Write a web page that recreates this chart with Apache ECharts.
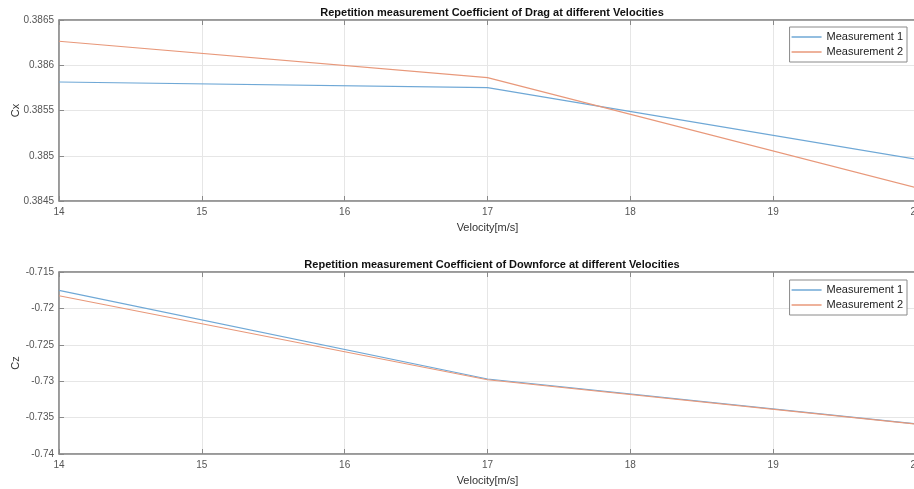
<!DOCTYPE html>
<html>
<head>
<meta charset="utf-8">
<script src="https://cdn.jsdelivr.net/npm/echarts@6/dist/echarts.min.js"></script>
<style>
html,body{margin:0;padding:0;background:#fff;}
#c{width:914px;height:489px;}
</style>
</head>
<body>
<div id="c"></div>
<script>
// Data
const velocity = [14, 17, 20];
const cxMeas1 = [0.385815, 0.385752, 0.384961];
const cxMeas2 = [0.386265, 0.385863, 0.384647];
const czMeas1 = [-0.71753, -0.72970, -0.73585];
const czMeas2 = [-0.71826, -0.72980, -0.73590];
const seriesNames = ['Measurement 1', 'Measurement 2'];
const titles = ['Repetition measurement Coefficient of Drag at different Velocities',
                'Repetition measurement Coefficient of Downforce at different Velocities'];
const xAxisName = 'Velocity[m/s]';
const yNames = ['Cx', 'Cz'];

const colors = ['#6fa8d6', '#e8987a'];
const font = 'Liberation Sans, Arial, sans-serif';
const pairs = (xs, ys) => xs.map((x, i) => [x, ys[i]]);
const fmt = d => v => String(parseFloat(v.toFixed(d)));

const grids = [
  {left: 59, top: 20, width: 857, height: 181},
  {left: 59, top: 272, width: 857, height: 182}
];

function xAx(gi){
  return [{
    type: 'value', gridIndex: gi, min: 14, max: 20, interval: 1,
    name: xAxisName, nameLocation: 'middle', nameGap: 21,
    nameTextStyle: {fontSize: 11, color: '#333', fontFamily: font},
    axisLine: {show: true, onZero: false, lineStyle: {color: '#8a8a8a', width: 1.5}},
    axisTick: {show: true, inside: true, length: 5, lineStyle: {color: '#8a8a8a'}},
    axisLabel: {fontSize: 10, color: '#555', margin: 6, fontFamily: font},
    splitLine: {show: true, lineStyle: {color: '#e6e6e6'}}
  },{
    type: 'value', gridIndex: gi, min: 14, max: 20, interval: 1, position: 'top',
    axisLine: {show: true, onZero: false, lineStyle: {color: '#8a8a8a', width: 1.5}},
    axisTick: {show: true, inside: true, length: 5, lineStyle: {color: '#8a8a8a'}},
    axisLabel: {show: false}, splitLine: {show: false}
  }];
}
function yAx(gi, min, max, interval, dec, name){
  return {
    type: 'value', gridIndex: gi, min: min, max: max, interval: interval,
    name: name, nameLocation: 'middle', nameGap: 38, nameMoveOverlap: false,
    nameTextStyle: {fontSize: 11, color: '#333', fontFamily: font},
    axisLine: {show: true, onZero: false, lineStyle: {color: '#8a8a8a', width: 1.5}},
    axisTick: {show: true, inside: true, length: 5, lineStyle: {color: '#8a8a8a'}},
    axisLabel: {fontSize: 10, color: '#555', margin: 5, fontFamily: font, formatter: fmt(dec)},
    splitLine: {show: true, lineStyle: {color: '#e6e6e6'}}
  };
}

const xa = xAx(0).concat(xAx(1));
const ya = [
  yAx(0, 0.3845, 0.3865, 0.0005, 5, yNames[0]),
  yAx(1, -0.74, -0.715, 0.005, 4, yNames[1])
];

function line(name, xi, yi, data, color){
  return {type: 'line', name: name, xAxisIndex: xi, yAxisIndex: yi,
    data: data, symbol: 'none', lineStyle: {width: 1.2, color: color},
    itemStyle: {color: color}, animation: false};
}

function legend(top){
  return {
    orient: 'vertical', right: 7, top: top, itemGap: 1,
    itemWidth: 30, itemHeight: 1.5, icon: 'rect',
    backgroundColor: '#fff', borderColor: '#8a8a8a', borderWidth: 1,
    padding: [3, 4, 3, 2],
    textStyle: {fontSize: 11, color: '#222', fontFamily: font, lineHeight: 14},
    data: seriesNames
  };
}

const chart = echarts.init(document.getElementById('c'));
chart.setOption({
  animation: false,
  backgroundColor: '#fff',
  title: [
    {text: titles[0], left: 487, top: 2, textAlign: 'center',
     textStyle: {fontSize: 11, fontWeight: 'bold', color: '#111', fontFamily: font}},
    {text: titles[1], left: 487, top: 254, textAlign: 'center',
     textStyle: {fontSize: 11, fontWeight: 'bold', color: '#111', fontFamily: font}}
  ],
  grid: grids.map(g => Object.assign({show: true, borderColor: '#8a8a8a', borderWidth: 1,
    backgroundColor: '#fff', containLabel: false, outerBoundsMode: 'none'}, g)),
  xAxis: xa,
  yAxis: ya,
  legend: [legend(27), legend(280)],
  series: [
    line(seriesNames[0], 0, 0, pairs(velocity, cxMeas1), colors[0]),
    line(seriesNames[1], 0, 0, pairs(velocity, cxMeas2), colors[1]),
    line(seriesNames[0], 2, 1, pairs(velocity, czMeas1), colors[0]),
    line(seriesNames[1], 2, 1, pairs(velocity, czMeas2), colors[1])
  ]
});
</script>
</body>
</html>
